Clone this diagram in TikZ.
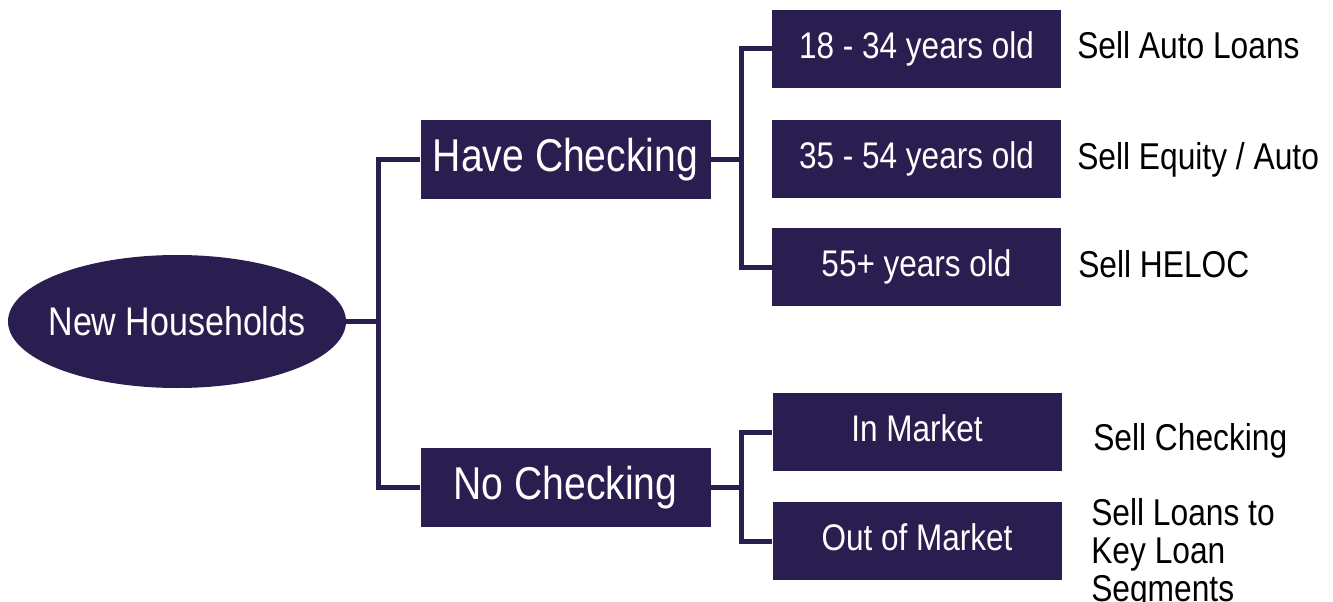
\documentclass[tikz,border=0pt]{standalone}
\usepackage{fontspec}
\usetikzlibrary{shapes.geometric}
\newfontfamily\lsf[FakeStretch=0.85]{Liberation Sans}
\definecolor{navy}{RGB}{42,30,80}
\begin{document}
\begin{tikzpicture}[x=0.75pt,y=-0.75pt,
  boxbase/.style={fill=navy,draw=none,text=white,inner sep=0pt,text depth=6pt},
  bigbox/.style={boxbase,minimum width=217.5pt,minimum height=59.25pt,text height=24.7pt,font=\lsf\fontsize{34.5}{40}\selectfont},
  smallbox/.style={boxbase,minimum width=216.75pt,minimum height=58.5pt,text height=19.9pt,font=\lsf\fontsize{27.8}{32}\selectfont},
  rootnode/.style={ellipse,fill=navy,draw=none,text=white,inner xsep=-8pt,inner ysep=0pt,minimum width=253.5pt,minimum height=99.75pt,text height=21.5pt,text depth=0pt,font=\lsf\fontsize{30}{34}\selectfont},
  action/.style={anchor=base west,inner sep=0pt,text=black,align=left,font=\lsf\fontsize{28}{28.5}\selectfont},
  link/.style={draw=navy,line width=3.75pt}]
\useasboundingbox (0,0) rectangle (1333,602);
\node[rootnode] (root) at (177,321.5) {New Households};
\node[bigbox] (hc) at (565.5,159.5) {Have Checking};
\node[bigbox] (nc) at (565.5,487) {No Checking};
\node[smallbox] (b1) at (916.5,49) {18 - 34 years old};
\node[smallbox] (b2) at (916.5,159) {35 - 54 years old};
\node[smallbox] (b3) at (916.5,267) {55+ years old};
\node[smallbox] (im) at (917,432) {In Market};
\node[smallbox] (om) at (917,541) {Out of Market};
\node[action] (a1) at (1077,59) {Sell Auto Loans};
\node[action] (a2) at (1077,170) {Sell Equity / Auto};
\node[action] (a3) at (1078,277) {Sell HELOC};
\node[action] (a4) at (1093,450) {Sell Checking};
\node[action] (a5) at (1091,601) {Sell Loans to\\Key Loan\\Segments};
\coordinate (j0) at (378,321.5);
\coordinate (j1) at (741,159.5);
\coordinate (j2) at (741,487);
\draw[link] (root.east) -- (j0);
\draw[link] (hc.west) -| (j0) |- (nc.west);
\draw[link] (hc.east) -- (j1);
\draw[link] (b1.west) -| (j1) |- (b3.west);
\draw[link] (nc.east) -- (j2);
\draw[link] (im.west) -| (j2) |- (om.west);
\end{tikzpicture}
\end{document}
